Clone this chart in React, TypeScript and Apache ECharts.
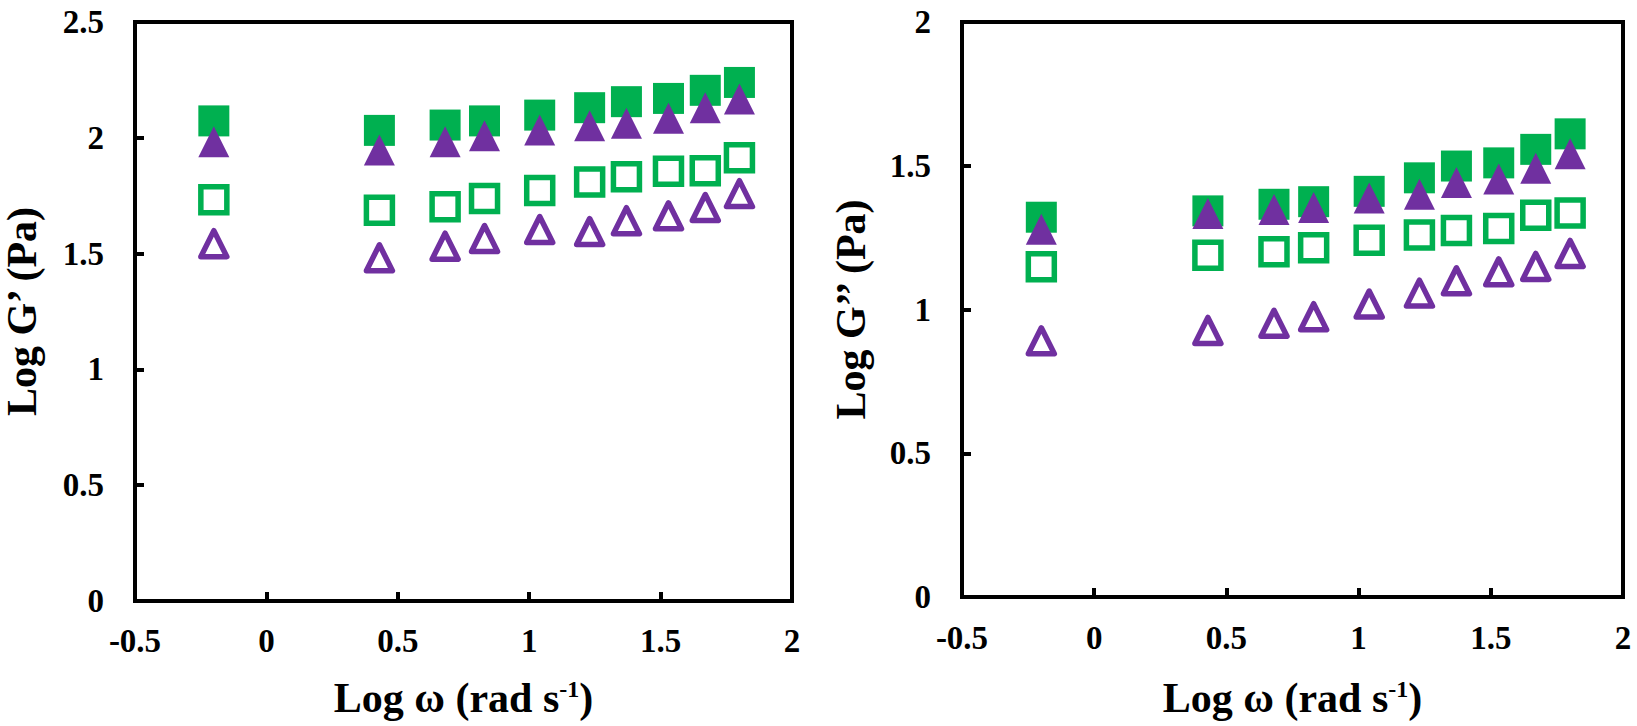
import React, { useEffect, useRef } from 'react';
import * as echarts from 'echarts';

// Log ω (rad s-1) for every measured frequency
const logOmega = [-0.2, 0.43, 0.68, 0.83, 1.04, 1.23, 1.37, 1.53, 1.67, 1.8];

// Left panel: Log G' (Pa)
const gPrimeFilledSquare = [2.073, 2.032, 2.055, 2.073, 2.098, 2.13, 2.156, 2.17, 2.205, 2.239];
const gPrimeOpenSquare = [1.733, 1.687, 1.702, 1.738, 1.772, 1.809, 1.832, 1.856, 1.858, 1.914];
const gPrimeFilledTriangle = [1.983, 1.947, 1.983, 2.009, 2.034, 2.052, 2.063, 2.084, 2.13, 2.167];
const gPrimeOpenTriangle = [1.543, 1.482, 1.532, 1.565, 1.604, 1.595, 1.642, 1.663, 1.699, 1.759];

// Right panel: Log G'' (Pa)
const gDoubleFilledSquare = [1.321, 1.343, 1.366, 1.375, 1.411, 1.458, 1.499, 1.51, 1.557, 1.611];
const gDoubleOpenSquare = [1.149, 1.189, 1.201, 1.215, 1.241, 1.259, 1.275, 1.282, 1.328, 1.336];
const gDoubleFilledTriangle = [1.279, 1.334, 1.348, 1.355, 1.388, 1.401, 1.442, 1.454, 1.491, 1.542];
const gDoubleOpenTriangle = [0.891, 0.927, 0.952, 0.975, 1.019, 1.057, 1.1, 1.131, 1.15, 1.195];

// Axis ranges / titles
const xMin = -0.5;
const xMax = 2;
const xStep = 0.5;
const leftYMax = 2.5;
const rightYMax = 2;
const yStep = 0.5;
const xTitle = 'Log ω (rad s{sup|-1})';
const leftYTitle = 'Log G’ (Pa)';
const rightYTitle = 'Log G’’ (Pa)';

const FONT = '"Liberation Serif", "Times New Roman", serif';
const GREEN = '#00B050';
const PURPLE = '#7030A0';

const zip = (xs: number[], ys: number[]) => xs.map((x, i) => [x, ys[i]]);

function makeXAxis(gridIndex: number, nameGap: number, labelMargin: number) {
  return {
    type: 'value',
    gridIndex,
    min: xMin,
    max: xMax,
    interval: xStep,
    name: xTitle,
    nameLocation: 'middle',
    nameGap,
    nameTextStyle: {
      fontFamily: FONT,
      fontWeight: 'bold',
      fontSize: 42,
      lineHeight: 42,
      color: '#000',
      rich: {
        sup: { fontFamily: FONT, fontWeight: 'bold', fontSize: 24, lineHeight: 20, verticalAlign: 'top', color: '#000' },
      },
    },
    axisLine: { show: true, onZero: false, lineStyle: { color: '#000', width: 4 } },
    axisTick: { show: true, inside: true, length: 9, lineStyle: { color: '#000', width: 4 } },
    axisLabel: { fontFamily: FONT, fontWeight: 'bold', fontSize: 33, color: '#000', margin: labelMargin },
    splitLine: { show: false },
  };
}

function makeYAxis(gridIndex: number, max: number, name: string, nameGap: number) {
  return {
    type: 'value',
    gridIndex,
    min: 0,
    max,
    interval: yStep,
    name,
    nameLocation: 'middle',
    nameRotate: 90,
    nameGap,
    nameTextStyle: { fontFamily: FONT, fontWeight: 'bold', fontSize: 42, lineHeight: 42, color: '#000' },
    axisLine: { show: true, onZero: false, lineStyle: { color: '#000', width: 4 } },
    axisTick: { show: true, inside: true, length: 9, lineStyle: { color: '#000', width: 4 } },
    axisLabel: { fontFamily: FONT, fontWeight: 'bold', fontSize: 33, color: '#000', margin: 31 },
    splitLine: { show: false },
  };
}

function seriesSet(idx: number, fs: number[], os: number[], ft: number[], ot: number[]) {
  const common = { type: 'scatter', xAxisIndex: idx, yAxisIndex: idx, silent: true };
  return [
    { ...common, symbol: 'rect', symbolSize: 31, itemStyle: { color: GREEN, opacity: 1 }, data: zip(logOmega, fs) },
    {
      ...common,
      symbol: 'rect',
      symbolSize: 26,
      itemStyle: { color: '#fff', borderColor: GREEN, borderWidth: 5.5, opacity: 1 },
      data: zip(logOmega, os),
    },
    { ...common, symbol: 'triangle', symbolSize: 31, itemStyle: { color: PURPLE, opacity: 1 }, data: zip(logOmega, ft) },
    {
      ...common,
      symbol: 'triangle',
      symbolSize: 26,
      itemStyle: { color: '#fff', borderColor: PURPLE, borderWidth: 5.5, borderJoin: 'round', opacity: 1 },
      data: zip(logOmega, ot),
    },
  ];
}

export default function App() {
  const ref = useRef<HTMLDivElement>(null);
  useEffect(() => {
    if (!ref.current) return;
    const chart = echarts.init(ref.current, undefined, { renderer: 'svg' });
    chart.setOption({
      animation: false,
      backgroundColor: '#fff',
      grid: [
        { left: 130, top: 22, width: 662, height: 579, show: true, borderColor: '#000', borderWidth: 4, backgroundColor: 'transparent' },
        { left: 962, top: 22, width: 661, height: 575, show: true, borderColor: '#000', borderWidth: 4, backgroundColor: 'transparent' },
      ],
      xAxis: [makeXAxis(0, 76, 23), makeXAxis(1, 80, 24)],
      yAxis: [makeYAxis(0, leftYMax, leftYTitle, 92), makeYAxis(1, rightYMax, rightYTitle, 90)],
      series: [
        ...seriesSet(0, gPrimeFilledSquare, gPrimeOpenSquare, gPrimeFilledTriangle, gPrimeOpenTriangle),
        ...seriesSet(1, gDoubleFilledSquare, gDoubleOpenSquare, gDoubleFilledTriangle, gDoubleOpenTriangle),
      ],
    });
    return () => chart.dispose();
  }, []);
  return <div ref={ref} style={{ position: 'fixed', left: 0, top: 0, width: 1637, height: 726, background: '#fff' }} />;
}
